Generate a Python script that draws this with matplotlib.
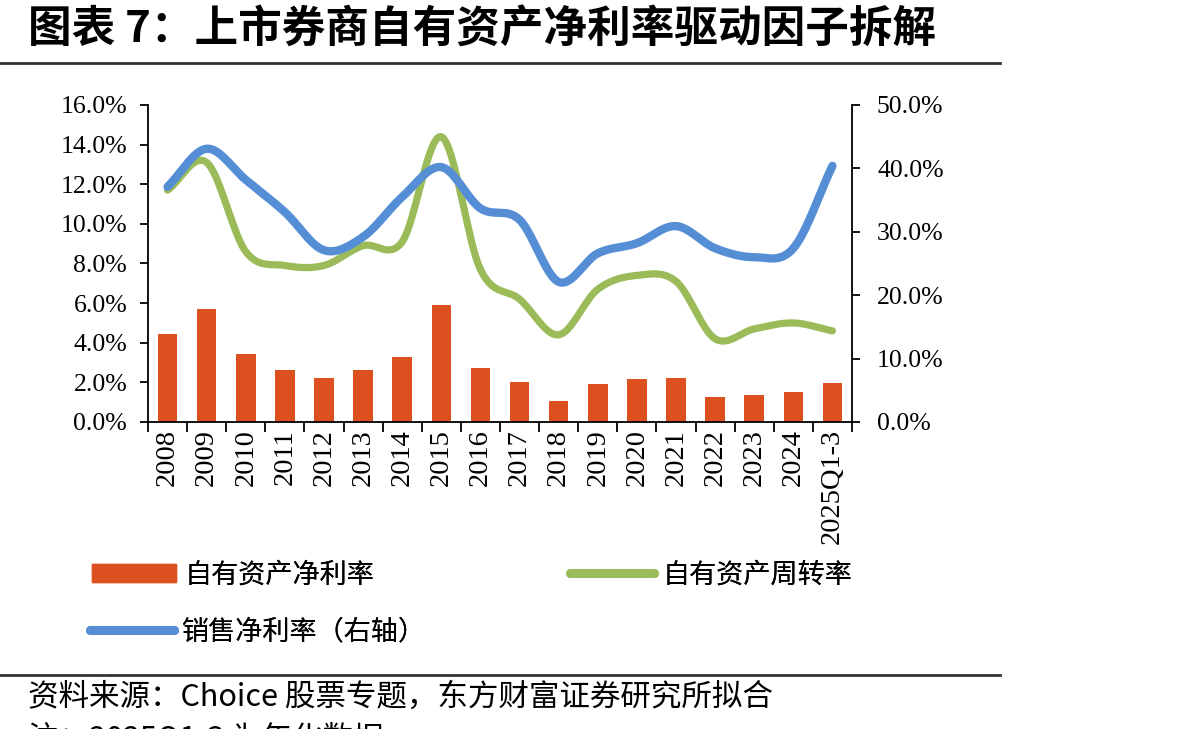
import numpy as np
import matplotlib
matplotlib.use("Agg")
import matplotlib.pyplot as plt
from matplotlib.lines import Line2D
from matplotlib.patches import Patch

categories = ["2008", "2009", "2010", "2011", "2012", "2013", "2014", "2015", "2016",
              "2017", "2018", "2019", "2020", "2021", "2022", "2023", "2024", "2025Q1-3"]
roa = [4.45, 5.7, 3.45, 2.6, 2.2, 2.6, 3.3, 5.9, 2.75,
       2.0, 1.05, 1.9, 2.15, 2.2, 1.25, 1.35, 1.5, 1.95]           # 自有资产净利率 (left)
turnover = [11.7, 13.1, 8.6, 7.9, 7.9, 8.9, 9.1, 14.4, 7.7,
            6.2, 4.4, 6.7, 7.4, 7.1, 4.2, 4.7, 5.0, 4.6]           # 自有资产周转率 (left)
net_margin = [37.1, 43.1, 38.2, 33.1, 27.1, 29.2, 35.5, 40.2, 33.7,
              31.9, 22.1, 26.6, 28.2, 30.9, 27.4, 26.0, 27.4, 40.4]  # 销售净利率 (right)
left_ticks = [0, 2, 4, 6, 8, 10, 12, 14, 16]
right_ticks = [0, 10, 20, 30, 40, 50]

CJK = ["Noto Sans CJK SC", "DejaVu Sans"]
SERIF = ["Liberation Serif", "DejaVu Serif"]

RED = "#DC4F1F"
GREEN = "#9BBB59"
BLUE = "#558ED5"


def smooth(x, y, n=20):
    # Catmull-Rom rendering of the line through the data points (Excel "smoothed line")
    x = np.asarray(x, float)
    y = np.asarray(y, float)
    P = np.column_stack([x, y])
    P = np.vstack([P[0] - (P[1] - P[0]), P, P[-1] + (P[-1] - P[-2])])
    out = []
    for i in range(1, len(P) - 2):
        p0, p1, p2, p3 = P[i - 1], P[i], P[i + 1], P[i + 2]
        t = np.linspace(0, 1, n, endpoint=False)[:, None]
        c1 = p1 + (p2 - p0) / 6
        c2 = p2 - (p3 - p1) / 6
        b = ((1 - t) ** 3) * p1 + 3 * ((1 - t) ** 2) * t * c1 + 3 * (1 - t) * t ** 2 * c2 + t ** 3 * p2
        out.append(b)
    out.append(P[-2][None, :])
    out = np.vstack(out)
    return out[:, 0], out[:, 1]


W, H = 1192, 729
fig = plt.figure(figsize=(W / 100, H / 100), dpi=100)
ax = fig.add_axes([148 / W, 1 - 422 / H, (852 - 148) / W, (422 - 105) / H])
ax2 = ax.twinx()

x = np.arange(len(categories))
ax.bar(x, roa, width=0.5, color=RED, zorder=2)
sx, sy = smooth(x, turnover)
ax.plot(sx, sy, color=GREEN, lw=5.2, solid_capstyle="round", zorder=3)
bx, by = smooth(x, net_margin)
ax2.plot(bx, by, color=BLUE, lw=6.0, solid_capstyle="round", zorder=4)

ax.set_xlim(-0.5, len(categories) - 0.5)
ax.set_ylim(0, 16)
ax2.set_ylim(0, 50)
ax.set_yticks(left_ticks)
ax.set_yticklabels([f"{v:.1f}%" for v in left_ticks], fontfamily=SERIF, fontsize=18.5)
ax2.set_yticks(right_ticks)
ax2.set_yticklabels([f"{v:.1f}%" for v in right_ticks], fontfamily=SERIF, fontsize=18.5)
ax.set_xticks(np.arange(len(categories) + 1) - 0.5, minor=False)
ax.set_xticklabels([])
ax.set_xticks(x, minor=True)
ax.set_xticklabels(categories, minor=True, rotation=90, fontfamily=SERIF, fontsize=20.5)
ax.tick_params(axis="x", which="major", direction="out", length=7, width=1.3)
ax.tick_params(axis="x", which="minor", length=0, pad=5)
ax.tick_params(axis="y", direction="out", length=6, width=1.3, pad=9)
ax2.tick_params(axis="y", direction="out", length=6, width=1.3, pad=12)

for a in (ax, ax2):
    a.spines["top"].set_visible(False)
    for s in ("left", "right", "bottom"):
        a.spines[s].set_linewidth(1.3)
ax.spines["right"].set_visible(False)
ax2.spines["left"].set_visible(False)
ax2.spines["bottom"].set_visible(False)

# Title
fig.text(28 / W, 1 - 30 / H, "图表 7：上市券商自有资产净利率驱动因子拆解", fontfamily=CJK,
         fontsize=31.4, fontweight="bold", va="center", ha="left")
fig.add_artist(Line2D([0, 1000 / W], [1 - 63 / H] * 2, color="#333333", lw=2))

# Legend (manual layout, one entry each)
prop = {"family": CJK, "size": 19.5}
entries = [
    (Patch(color=RED), "自有资产净利率", 92, 575),
    (Line2D([], [], color=GREEN, lw=6.5, solid_capstyle="round"), "自有资产周转率", 570, 575),
    (Line2D([], [], color=BLUE, lw=6.5, solid_capstyle="round"), "销售净利率（右轴）", 90, 632),
]
for h, lab, px, py in entries:
    lg = fig.legend([h], [lab], loc="center left", bbox_to_anchor=(px / W, 1 - py / H),
                    frameon=False, prop=prop, handlelength=3.1, handleheight=0.6,
                    handletextpad=0.3, borderpad=0, borderaxespad=0)
    fig.add_artist(lg)

# Footer
fig.add_artist(Line2D([0, 1000 / W], [1 - 675 / H] * 2, color="#333333", lw=2))
fig.text(28 / W, 1 - 697 / H, "资料来源：Choice 股票专题，东方财富证券研究所拟合",
         fontfamily=["Noto Sans CJK SC", "Liberation Sans"], fontsize=22, va="center", ha="left")
fig.text(28 / W, 1 - 738 / H, "注：2025Q1-3 为年化数据",
         fontfamily=["Noto Sans CJK SC", "Liberation Sans"], fontsize=22, va="center", ha="left")

fig.savefig("out.png", dpi=100)
